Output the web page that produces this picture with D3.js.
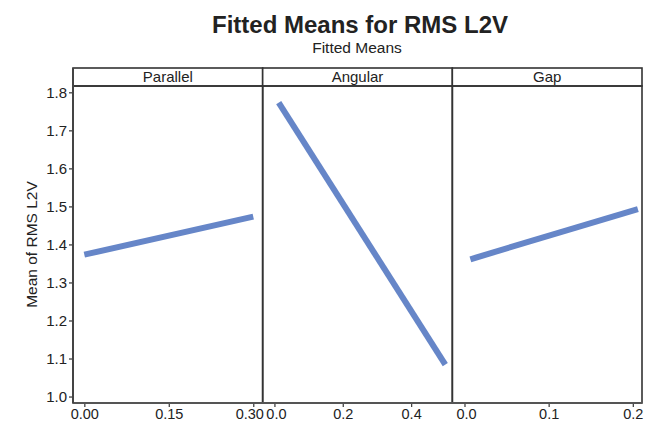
<!DOCTYPE html>
<html><head><meta charset="utf-8">
<script src="https://cdn.jsdelivr.net/npm/d3@7"></script>
<style>body{margin:0;background:#fff}svg{display:block}text{font-family:"Liberation Sans",Arial,sans-serif;fill:#222}</style>
</head><body><svg id="c" width="654" height="426"></svg>
<script>
// ---- data ----
const panels = ["Parallel", "Angular", "Gap"];
const xParallel = [0.0, 0.30];
const yParallel = [1.373, 1.473];
const xAngular = [0.0125, 0.50];
const yAngular = [1.773, 1.084];
const xGap = [0.007, 0.206];
const yGap = [1.361, 1.493];
const ticksParallel = [0, 0.15, 0.30];
const ticksAngular = [0, 0.2, 0.4];
const ticksGap = [0, 0.1, 0.2];
const yTicks = [1.0, 1.1, 1.2, 1.3, 1.4, 1.5, 1.6, 1.7, 1.8];
const title = "Fitted Means for RMS L2V";
const subtitle = "Fitted Means";
const yLabel = "Mean of RMS L2V";

// ---- layout ----
const svg = d3.select("#c");
const L = 73, R = 642, stripTop = 68, plotTop = 86, plotBottom = 403;
const pw = (R - L) / 3;
const lineColor = "#6686c8", frameColor = "#333";

const y = d3.scaleLinear().domain([0.983, 1.8166]).range([plotBottom, plotTop]);

const specs = [
  {x: xParallel, y: yParallel, ticks: ticksParallel, fmt: d3.format(".2f"), dom: [-0.0201, 0.3167]},
  {x: xAngular, y: yAngular, ticks: ticksAngular, fmt: d3.format(".1f"), dom: [-0.0344, 0.5206]},
  {x: xGap, y: yGap, ticks: ticksGap, fmt: d3.format(".1f"), dom: [-0.01444, 0.2109]}
];

svg.append("text").attr("x", 360).attr("y", 33).attr("text-anchor", "middle")
  .style("font-size", "24px").style("font-weight", "bold").text(title);
svg.append("text").attr("x", 357).attr("y", 53).attr("text-anchor", "middle")
  .style("font-size", "15.5px").text(subtitle);

svg.append("text").attr("transform", `translate(37,${(plotTop + plotBottom) / 2}) rotate(-90)`)
  .attr("text-anchor", "middle").style("font-size", "15.5px").text(yLabel);

specs.forEach((s, i) => {
  const x0 = L + i * pw, x1 = x0 + pw;
  const x = d3.scaleLinear().domain(s.dom).range([x0, x1]);
  svg.append("rect").attr("x", x0).attr("y", stripTop).attr("width", pw).attr("height", plotTop - stripTop)
    .attr("fill", "#fff").attr("stroke", frameColor).attr("stroke-width", 1.6);
  svg.append("text").attr("x", (x0 + x1) / 2).attr("y", plotTop - 4).attr("text-anchor", "middle")
    .style("font-size", "15px").text(panels[i]);
  svg.append("rect").attr("x", x0).attr("y", plotTop).attr("width", pw).attr("height", plotBottom - plotTop)
    .attr("fill", "none").attr("stroke", frameColor).attr("stroke-width", 1.6);
  const ax = svg.append("g").attr("transform", `translate(0,${plotBottom})`)
    .call(d3.axisBottom(x).tickValues(s.ticks).tickFormat(s.fmt).tickSize(4).tickPadding(2));
  ax.select(".domain").remove();
  ax.selectAll("line").attr("stroke", "#444").attr("stroke-width", 1.3);
  ax.selectAll("text").style("font-size", "14.5px").style("font-family", '"Liberation Sans",Arial,sans-serif').attr("fill", "#222");
  // keep neighbouring labels at panel joins apart
  const labels = ax.selectAll("text").nodes();
  if (i === 0) d3.select(labels[labels.length - 1]).attr("dx", -4);
  if (i > 0) d3.select(labels[0]).attr("dx", 1.5);
  const pts = s.x.map((v, j) => [v, s.y[j]]);
  svg.append("path").datum(pts)
    .attr("d", d3.line().x(d => x(d[0])).y(d => y(d[1])))
    .attr("fill", "none").attr("stroke", lineColor).attr("stroke-width", 6);
});

svg.append("line").attr("x1", L).attr("x2", R).attr("y1", plotBottom).attr("y2", plotBottom)
  .attr("stroke", "#555").attr("stroke-width", 2);
const ay = svg.append("g").attr("transform", `translate(${L},0)`)
  .call(d3.axisLeft(y).tickValues(yTicks).tickFormat(d3.format(".1f")).tickSize(4).tickPadding(2));
ay.select(".domain").remove();
ay.selectAll("line").attr("stroke", "#444").attr("stroke-width", 1.3);
ay.selectAll("text").style("font-size", "15px").style("font-family", '"Liberation Sans",Arial,sans-serif').attr("fill", "#222");
svg.append("line").attr("x1", L).attr("x2", L).attr("y1", stripTop).attr("y2", plotBottom)
  .attr("stroke", "#444").attr("stroke-width", 2);
</script></body></html>
